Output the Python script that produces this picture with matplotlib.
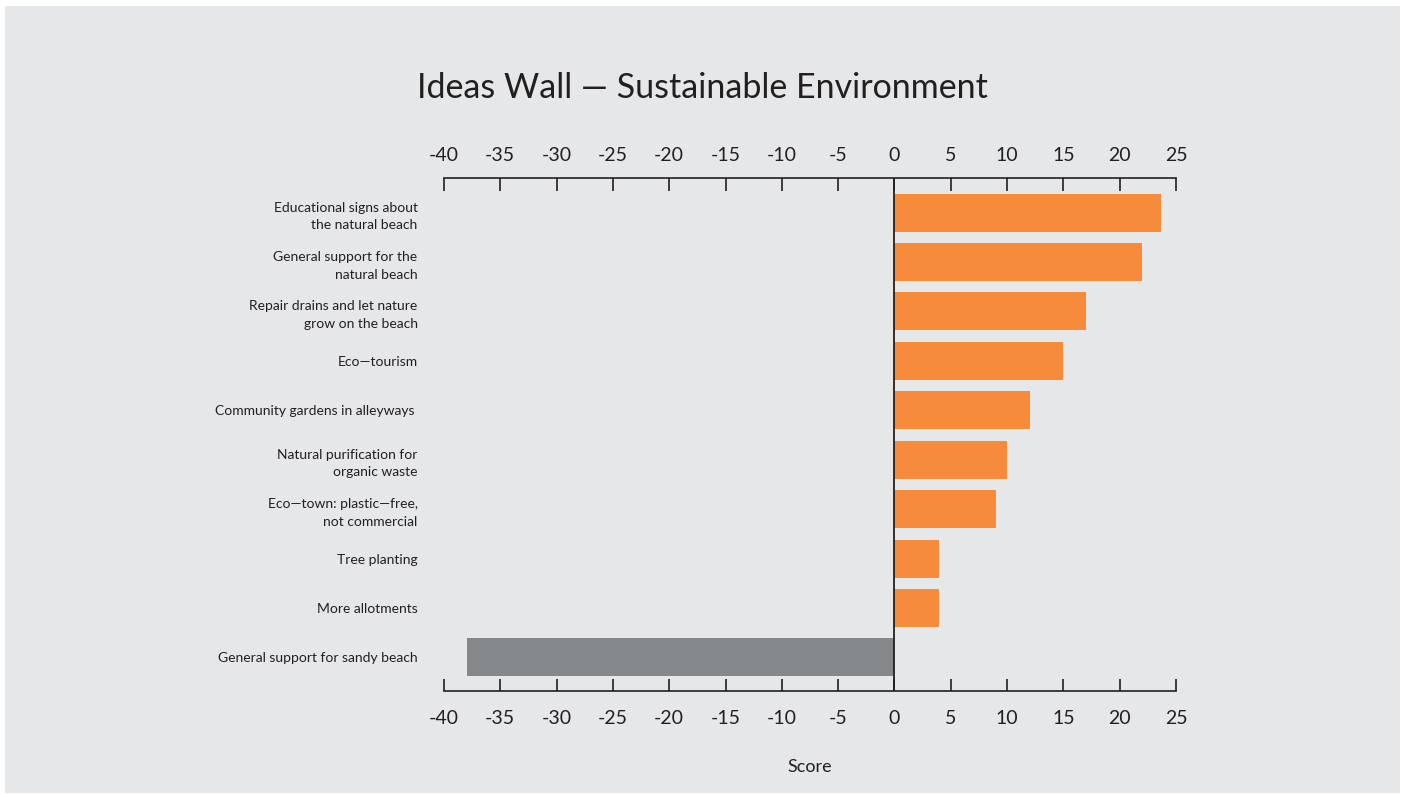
import matplotlib.pyplot as plt
from matplotlib.patches import Rectangle

ideas = [
    "Educational signs about\nthe natural beach",
    "General support for the\nnatural beach",
    "Repair drains and let nature\ngrow on the beach",
    "Eco\u2014tourism",
    "Community gardens in alleyways ",
    "Natural purification for\norganic waste",
    "Eco\u2014town: plastic\u2014free,\nnot commercial",
    "Tree planting",
    "More allotments",
    "General support for sandy beach",
]
scores = [23.7, 22, 17, 15, 12, 10, 9, 4, 4, -38]
ticks = [-40, -35, -30, -25, -20, -15, -10, -5, 0, 5, 10, 15, 20, 25]

bg = '#e6e7e9'
ink = '#231f20'
orange = '#f68c3b'
grey = '#85888b'

plt.rcParams['font.family'] = ['Lato', 'DejaVu Sans']

fig = plt.figure(figsize=(14.05, 7.94), dpi=100, facecolor='white')
fig.patches.append(Rectangle((5 / 1405, 1 / 794), 1395 / 1405, 787 / 794,
                             transform=fig.transFigure, facecolor=bg,
                             edgecolor='none', zorder=-10))
ax = fig.add_axes([0.316, 0.1297, 0.521, 0.6461])
ax.set_facecolor(bg)

colors = [orange if s >= 0 else grey for s in scores]
ax.barh(range(len(ideas)), scores, height=0.77, color=colors, zorder=2)
ax.axvline(0, color=ink, lw=1.3, zorder=3)

ax.set_xlim(-40, 25)
ax.set_ylim(len(ideas) - 0.32, -0.7)
ax.set_xticks(ticks)
ax.set_xticklabels([str(t) for t in ticks])
ax.set_yticks(range(len(ideas)))
ax.set_yticklabels(ideas, fontsize=10, color=ink, linespacing=1.55)

ax.tick_params(axis='x', direction='in', length=9, width=1.2, color=ink,
               labelsize=14, labelcolor=ink, pad=14)
ax.tick_params(axis='y', length=0, pad=19)

# top axis with the same ticks, labels a bit closer to the spine
top = ax.secondary_xaxis('top')
top.set_xticks(ticks)
top.set_xticklabels([str(t) for t in ticks])
top.tick_params(direction='in', length=9, width=1.2, color=ink,
                labelsize=14, labelcolor=ink, pad=10)
top.spines['top'].set_color(ink)
top.spines['top'].set_linewidth(1.2)

for side in ['left', 'right', 'top']:
    ax.spines[side].set_visible(False)
ax.spines['bottom'].set_color(ink)
ax.spines['bottom'].set_linewidth(1.2)

ax.set_xlabel('Score', fontsize=13, color=ink, labelpad=23)
fig.text(0.5, 1 - 88 / 794, 'Ideas Wall \u2014 Sustainable Environment',
         ha='center', va='center', fontsize=24.5, color=ink)

fig.savefig('out.png', dpi=100, facecolor='white')
